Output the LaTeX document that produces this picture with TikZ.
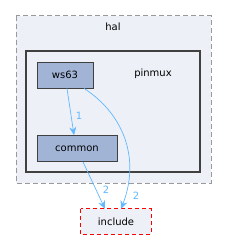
\documentclass[tikz,border=0pt]{standalone}
\usepackage{fontspec}
\setmainfont{DejaVu Sans}
\usetikzlibrary{arrows.meta}
\definecolor{clfill}{HTML}{EDF0F7}
\definecolor{nodefill}{HTML}{A2B4D6}
\definecolor{edgecol}{HTML}{63B8FF}
\definecolor{incred}{HTML}{FF0000}
\tikzset{
  dirnode/.style={draw=black!75, fill=nodefill, line width=0.8pt, minimum height=26pt, inner sep=0pt, font=\fontsize{10}{12}\selectfont},
  incnode/.style={fill=clfill, minimum height=25pt, inner sep=0pt, font=\fontsize{10}{12}\selectfont},
  edge/.style={draw=edgecol, line width=0.7pt, -{Stealth[length=8pt,width=7pt]}},
  elabel/.style={text=edgecol, font=\fontsize{10}{12}\selectfont}
}
\begin{document}
\begin{tikzpicture}[x=1pt,y=-1pt]
\useasboundingbox (0,0) rectangle (227,240);
% hal cluster
\draw[draw=gray!80, dash pattern=on 5pt off 3pt, line width=1pt, fill=clfill] (16,16) rectangle (211,183);
\node[font=\fontsize{10}{12}\selectfont] (hal) at (113,27) {hal};
% pinmux cluster
\draw[draw=black!75, line width=2pt, fill=clfill] (26,51) rectangle (200,172);
\node[font=\fontsize{10}{12}\selectfont] (pinmux) at (153,74) {pinmux};
% nodes
\node[dirnode, minimum width=56pt] (ws63) at (65,75) {ws63};
\node[dirnode, minimum width=80pt] (common) at (77,148.5) {common};
\node[incnode, minimum width=70pt] (include) at (116,221.5) {include};
\draw[incred, line width=1pt, dash pattern=on 4pt off 3pt] (include.north west) rectangle (include.south east);
% edges
\draw[edge] (ws63.south -| 67,0) -- (common.north -| 74,0);
\node[elabel] (l1) at (79,116) {1};
\draw[edge] (ws63.south -| 84,0) .. controls (125,115) and (140,160) .. (include.north -| 121,0);
\node[elabel] (l2) at (136,196) {2};
\draw[edge] (common.south -| 83,0) -- (include.north -| 105,0);
\node[elabel] (l3) at (106,190) {2};
\end{tikzpicture}
\end{document}
